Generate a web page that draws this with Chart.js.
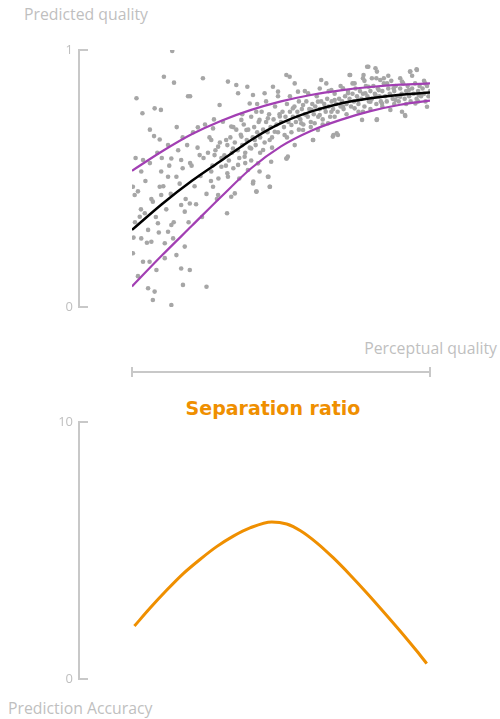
<!DOCTYPE html>
<html>
<head>
<meta charset="utf-8">
<script src="https://cdn.jsdelivr.net/npm/chart.js@4/dist/chart.umd.min.js"></script>
<style>
  body { margin: 0; background: #fff; width: 500px; height: 719px; position: relative; overflow: hidden; }
  canvas { position: absolute; left: 0; }
  .lbl { position: absolute; font-family: 'Open Sans', sans-serif; font-size: 15.8px; color: #bfbfbf; white-space: nowrap; line-height: 1; }
  .ttl { position: absolute; font-family: 'DejaVu Sans', Verdana, sans-serif; font-weight: bold; font-size: 19px; color: #ef8f00; white-space: nowrap; line-height: 1; }
</style>
</head>
<body>
<div class="lbl" style="left:24px; top:7px;">Predicted quality</div>
<div class="lbl" style="right:3px; top:341px;">Perceptual quality</div>
<div class="ttl" style="left:273px; top:399px; transform:translateX(-50%);">Separation ratio</div>
<div class="lbl" style="left:8px; top:701px;">Prediction Accuracy</div>
<canvas id="qualityChart" width="500" height="390" style="top:0"></canvas>
<canvas id="ratioChart" width="500" height="329" style="top:390px"></canvas>
<script>
// x positions (0..1 across perceptual quality) for the fitted curves
const curveX = [0, 0.1, 0.2, 0.3, 0.4, 0.5, 0.6, 0.7, 0.8, 0.9, 1.0];
const meanFit = [0.30, 0.40, 0.49, 0.57, 0.65, 0.715, 0.76, 0.792, 0.812, 0.826, 0.835];
const upperBand = [0.53, 0.605, 0.672, 0.725, 0.767, 0.80, 0.825, 0.843, 0.856, 0.865, 0.87];
const lowerBand = [0.08, 0.20, 0.315, 0.43, 0.54, 0.625, 0.685, 0.728, 0.762, 0.787, 0.803];

// individual observations [perceptual, predicted]
const observations = [
  [0.135,0.996],[0.107,0.896],[0.141,0.873],[0.238,0.89],[0.188,0.82],[0.195,0.82],[0.015,0.812],
  [0.076,0.773],[0.097,0.767],[0.035,0.754],[0.221,0.699],[0.074,0.665],[0.093,0.652],[0.121,0.63],
  [0.227,0.591],[0.037,0.572],[0.132,0.578],[0.165,0.572],[0.031,0.527],[0.098,0.527],[0.121,0.507],
  [0.149,0.507],[0.009,0.436],[0.093,0.468],[0.098,0.436],[0.07,0.41],[0.165,0.397],[0.194,0.403],
  [0.177,0.371],[0.043,0.365],[0.026,0.351],[0.087,0.326],[0.132,0.319],[0.054,0.30],[0.121,0.293],
  [0.031,0.267],[0.065,0.254],[0.11,0.248],[0.138,0.267],[0.177,0.235],[0.003,0.209],[0.149,0.202],
  [0.037,0.176],[0.059,0.176],[0.082,0.144],[0.165,0.15],[0.194,0.144],[0.054,0.073],[0.076,0.06],
  [0.171,0.086],[0.07,0.027],[0.132,0.008],[0.25,0.079],[0.003,0.468],
  [0.322,0.877],[0.35,0.864],[0.387,0.857],[0.356,0.832],[0.406,0.825],[0.445,0.832],[0.473,0.857],
  [0.49,0.838],[0.518,0.903],[0.294,0.786],[0.395,0.792],[0.417,0.76],[0.367,0.728],[0.428,0.728],
  [0.456,0.734],[0.496,0.741],[0.305,0.721],[0.272,0.695],[0.333,0.702],[0.384,0.689],[0.479,0.682],
  [0.512,0.669],[0.266,0.65],[0.316,0.65],[0.367,0.663],[0.412,0.65],[0.462,0.65],[0.289,0.624],
  [0.339,0.617],[0.40,0.617],[0.44,0.611],[0.518,0.578],[0.277,0.591],[0.378,0.585],[0.423,0.559],
  [0.467,0.565],[0.30,0.546],[0.356,0.553],[0.389,0.533],[0.428,0.527],[0.266,0.527],[0.322,0.507],
  [0.406,0.481],[0.456,0.507],[0.272,0.468],[0.462,0.468],[0.417,0.449],[0.345,0.442],[0.289,0.436],
  [0.333,0.429],[0.319,0.365],
  [0.73,0.903],[0.635,0.883],[0.652,0.87],[0.529,0.896],[0.546,0.87],[0.747,0.87],[0.775,0.89],
  [0.557,0.838],[0.591,0.832],[0.669,0.844],[0.708,0.851],[0.725,0.832],[0.624,0.799],[0.68,0.805],
  [0.758,0.805],[0.574,0.786],[0.54,0.773],[0.602,0.767],[0.647,0.773],[0.708,0.779],[0.747,0.773],
  [0.775,0.76],[0.557,0.741],[0.585,0.747],[0.63,0.747],[0.669,0.76],[0.535,0.708],[0.568,0.715],
  [0.613,0.715],[0.658,0.715],[0.574,0.689],[0.624,0.689],[0.607,0.65],[0.674,0.663],[0.691,0.669],
  [0.546,0.63],[0.523,0.585],
  [0.789,0.935],[0.817,0.929],[0.822,0.916],[0.934,0.916],[0.956,0.922],[0.777,0.903],[0.805,0.89],
  [0.833,0.883],[0.845,0.89],[0.856,0.87],[0.906,0.877],[0.984,0.87],[0.794,0.857],[0.828,0.844],
  [0.878,0.851],[0.929,0.844],[0.783,0.832],[0.817,0.825],[0.867,0.825],[0.90,0.818],[0.962,0.825],
  [0.80,0.799],[0.839,0.792],[0.884,0.805],[0.951,0.792],[0.99,0.779],[0.867,0.767],[0.906,0.76],
  [0.917,0.743],[0.822,0.73],[0.772,0.728],
  [0.732,0.903],[0.793,0.935],[0.933,0.916],[0.955,0.925],[0.916,0.747],[0.821,0.728],[0.676,0.669],
  [0.687,0.676],[0.608,0.65],[0.519,0.578],[0.458,0.507],[0.463,0.468],[0.407,0.488],[0.418,0.449],
  [0.20,0.55],[0.21,0.47],[0.22,0.62],[0.23,0.51],[0.24,0.58],[0.25,0.44],[0.26,0.66],[0.27,0.55],
  [0.28,0.61],[0.29,0.50],[0.205,0.68],[0.215,0.40],[0.235,0.35],[0.245,0.71],[0.255,0.60],[0.265,0.49],
  [0.275,0.73],[0.285,0.42],[0.295,0.64],[0.30,0.58],
  [0.01,0.33],[0.02,0.45],[0.03,0.38],[0.045,0.49],[0.05,0.25],[0.06,0.56],[0.065,0.42],[0.08,0.35],
  [0.085,0.60],[0.09,0.29],[0.105,0.47],[0.115,0.38],[0.125,0.55],[0.13,0.44],[0.14,0.33],[0.155,0.61],
  [0.16,0.48],[0.17,0.54],[0.18,0.42],[0.185,0.63],[0.19,0.33],[0.195,0.56],[0.005,0.27],[0.012,0.58],
  [0.02,0.12],[0.11,0.19],[0.15,0.70],[0.17,0.66],[0.06,0.69],[0.10,0.58],
  [0.31,0.59],[0.315,0.55],[0.32,0.63],[0.325,0.57],[0.33,0.66],[0.335,0.60],[0.34,0.54],[0.345,0.64],
  [0.35,0.69],[0.355,0.61],[0.36,0.58],[0.365,0.67],[0.37,0.63],[0.375,0.71],[0.38,0.60],[0.385,0.65],
  [0.39,0.69],[0.395,0.62],[0.40,0.74],[0.405,0.66],[0.41,0.70],[0.415,0.63],[0.42,0.68],[0.425,0.72],
  [0.43,0.66],[0.435,0.76],[0.44,0.69],[0.445,0.64],[0.45,0.72],[0.455,0.68],[0.46,0.75],[0.465,0.70],
  [0.47,0.66],[0.475,0.73],[0.48,0.78],[0.485,0.71],[0.49,0.68],[0.495,0.75],[0.50,0.72],[0.32,0.52],
  [0.36,0.50],[0.38,0.56],[0.40,0.57],[0.43,0.60],[0.47,0.62],[0.34,0.70],[0.37,0.75],[0.42,0.79],
  [0.45,0.80],[0.49,0.82],
  [0.505,0.76],[0.51,0.70],[0.515,0.74],[0.52,0.79],[0.525,0.72],[0.53,0.76],[0.535,0.68],[0.54,0.74],
  [0.545,0.78],[0.55,0.72],[0.555,0.76],[0.56,0.80],[0.565,0.73],[0.57,0.77],[0.575,0.71],[0.58,0.75],
  [0.585,0.80],[0.59,0.74],[0.595,0.77],[0.60,0.72],[0.605,0.79],[0.61,0.75],[0.615,0.78],[0.62,0.82],
  [0.625,0.74],[0.63,0.77],[0.635,0.80],[0.64,0.73],[0.645,0.79],[0.65,0.76],[0.655,0.81],[0.66,0.78],
  [0.665,0.74],[0.67,0.80],[0.675,0.77],[0.68,0.83],[0.685,0.79],[0.69,0.76],[0.695,0.81],[0.70,0.78],
  [0.52,0.66],[0.56,0.69],[0.60,0.70],[0.64,0.71],[0.68,0.74],[0.53,0.82],[0.58,0.84],[0.63,0.85],
  [0.66,0.84],[0.70,0.86],
  [0.705,0.80],[0.71,0.77],[0.715,0.82],[0.72,0.79],[0.725,0.84],[0.73,0.81],[0.735,0.78],[0.74,0.83],
  [0.745,0.80],[0.75,0.85],[0.755,0.82],[0.76,0.79],[0.765,0.84],[0.77,0.81],[0.775,0.83],[0.78,0.78],
  [0.785,0.86],[0.79,0.82],[0.795,0.80],[0.80,0.84],[0.805,0.81],[0.81,0.86],[0.815,0.83],[0.82,0.79],
  [0.825,0.85],[0.83,0.82],[0.835,0.80],[0.84,0.84],[0.845,0.87],[0.85,0.82],[0.855,0.80],[0.86,0.85],
  [0.865,0.83],[0.87,0.88],[0.875,0.81],[0.88,0.84],[0.885,0.86],[0.89,0.82],[0.895,0.80],[0.90,0.85],
  [0.905,0.83],[0.91,0.87],[0.915,0.81],[0.92,0.84],[0.925,0.86],[0.93,0.82],[0.935,0.80],[0.94,0.85],
  [0.945,0.83],[0.95,0.87],[0.955,0.81],[0.96,0.84],[0.965,0.86],[0.97,0.82],[0.975,0.85],[0.98,0.83],
  [0.985,0.80],[0.99,0.86],[0.995,0.82],[1.0,0.84],[0.72,0.75],[0.76,0.76],[0.80,0.77],[0.84,0.78],
  [0.88,0.79],[0.92,0.79],[0.96,0.80],[0.74,0.87],[0.78,0.88],[0.82,0.89],[0.86,0.90],[0.90,0.89],
  [0.94,0.90],[0.98,0.88]
];

// separation ratio curve
const ratioX = [0.008, 0.06, 0.116, 0.172, 0.228, 0.284, 0.34, 0.396, 0.469, 0.519, 0.564, 0.62, 0.675, 0.732, 0.788, 0.843, 0.899, 0.955, 0.989];
const ratioY = [2.06, 2.75, 3.45, 4.10, 4.65, 5.15, 5.56, 5.88, 6.11, 6.03, 5.78, 5.30, 4.72, 4.05, 3.35, 2.63, 1.88, 1.10, 0.60];

const AXIS_GREY = '#c8c8c8';
const TICK_GREY = '#bfbfbf';

const toPoints = (xs, ys) => xs.map((x, i) => ({ x: x, y: ys[i] }));

// draws the bracket style axes: y bracket left of the plot, x bracket below it
const bracketAxes = {
    id: 'bracketAxes',
    afterDraw(chart, args, opts) {
        const ctx = chart.ctx;
        const x = chart.scales.x, y = chart.scales.y;
        const yTop = y.getPixelForValue(y.max);
        const yBot = y.getPixelForValue(y.min);
        const ax = x.getPixelForValue(0) - opts.yOffset;
        ctx.save();
        ctx.strokeStyle = AXIS_GREY;
        ctx.lineWidth = 2;
        ctx.beginPath();
        ctx.moveTo(ax + 9, yTop);
        ctx.lineTo(ax, yTop);
        ctx.lineTo(ax, yBot);
        ctx.lineTo(ax + 9, yBot);
        ctx.stroke();
        if (opts.xBracket) {
            const x0 = x.getPixelForValue(0), x1 = x.getPixelForValue(1);
            const by = yBot + opts.xBracket;
            ctx.beginPath();
            ctx.moveTo(x0, by); ctx.lineTo(x1, by);
            ctx.moveTo(x0, by - 5); ctx.lineTo(x0, by + 5);
            ctx.moveTo(x1, by - 5); ctx.lineTo(x1, by + 5);
            ctx.stroke();
        }
        ctx.restore();
    }
};

// invisible tick marks push the labels out to the left of the bracket
function yAxis(max) {
    return {
        min: 0, max: max,
        afterFit: s => { s.width = 132; },
        grid: { display: true, drawOnChartArea: false, drawTicks: true, tickLength: 55, tickColor: 'rgba(0,0,0,0)' },
        border: { display: false },
        ticks: {
            stepSize: max,
            padding: 4,
            color: TICK_GREY,
            font: { family: 'Open Sans', size: 13 }
        }
    };
}

new Chart(document.getElementById('qualityChart'), {
    type: 'scatter',
    data: {
        datasets: [
            { type: 'line', data: toPoints(curveX, meanFit), borderColor: '#000', borderWidth: 2.5, pointRadius: 0, cubicInterpolationMode: 'monotone', order: 0 },
            { type: 'line', data: toPoints(curveX, upperBand), borderColor: '#a23fb3', borderWidth: 2.2, pointRadius: 0, cubicInterpolationMode: 'monotone', order: 1 },
            { type: 'line', data: toPoints(curveX, lowerBand), borderColor: '#a23fb3', borderWidth: 2.2, pointRadius: 0, cubicInterpolationMode: 'monotone', order: 2 },
            { data: observations.map(p => ({ x: p[0], y: p[1] })), backgroundColor: '#a6a6a6', borderWidth: 0, pointRadius: 2.3, order: 5 }
        ]
    },
    options: {
        responsive: false,
        animation: false,
        layout: { padding: { top: 50, bottom: 83, right: 70, left: 0 } },
        plugins: { legend: { display: false }, tooltip: { enabled: false }, bracketAxes: { yOffset: 53, xBracket: 65 } },
        scales: {
            x: { type: 'linear', min: 0, max: 1, display: false },
            y: yAxis(1)
        }
    },
    plugins: [bracketAxes]
});

new Chart(document.getElementById('ratioChart'), {
    type: 'scatter',
    data: {
        datasets: [
            { type: 'line', data: toPoints(ratioX, ratioY), borderColor: '#ef8f00', borderWidth: 3, pointRadius: 0, cubicInterpolationMode: 'monotone' }
        ]
    },
    options: {
        responsive: false,
        animation: false,
        layout: { padding: { top: 32, bottom: 40, right: 70, left: 0 } },
        plugins: { legend: { display: false }, tooltip: { enabled: false }, bracketAxes: { yOffset: 53, xBracket: 0 } },
        scales: {
            x: { type: 'linear', min: 0, max: 1, display: false },
            y: yAxis(10)
        }
    },
    plugins: [bracketAxes]
});
</script>
</body>
</html>
